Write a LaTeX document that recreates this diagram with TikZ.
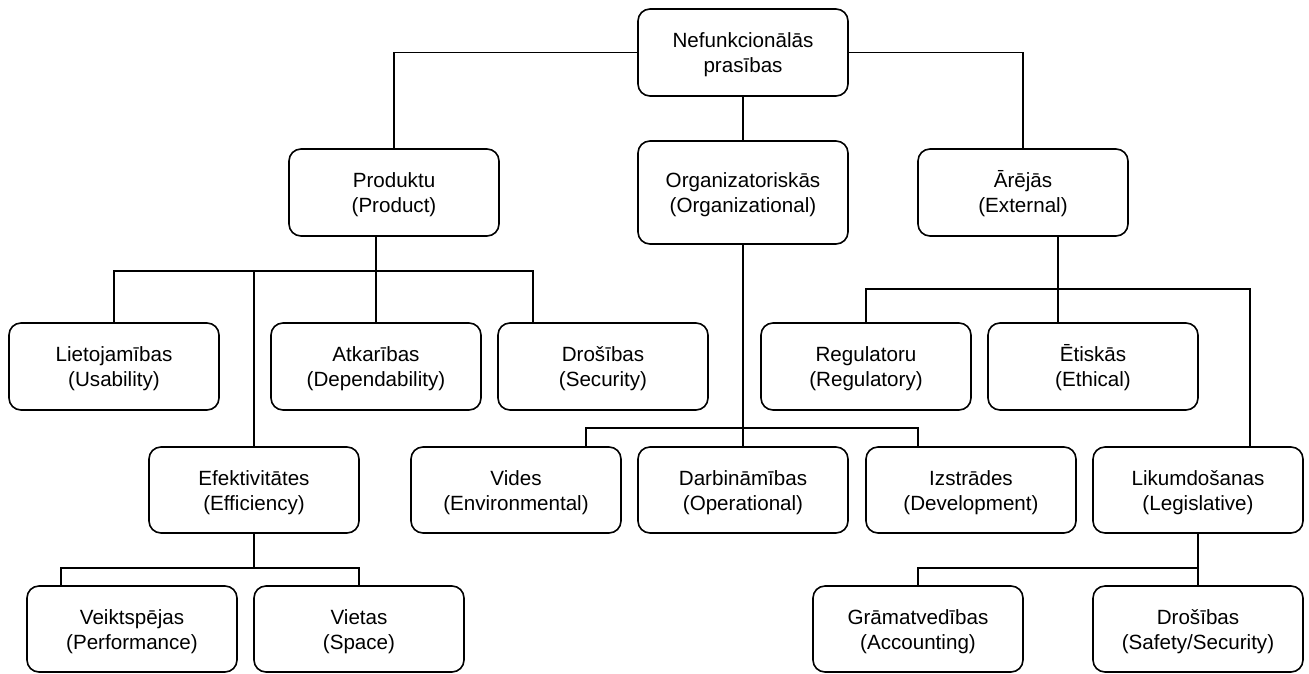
\documentclass[tikz,border=0pt]{standalone}
\usepackage{fontspec}
\setmainfont{Liberation Sans}
\begin{document}
\begin{tikzpicture}[x=1pt,y=-1pt,
  box/.style={draw,line width=1.6pt,rounded corners=12pt,minimum width=210pt,minimum height=87pt,
    align=center,inner sep=0pt,font=\fontsize{20.6}{25}\selectfont,
    text height=45.4pt,text depth=5pt},
  link/.style={line width=1.4pt}]
\useasboundingbox (0,0) rectangle (1309,673);
\node[box] (root) at (743,52.5) {Nefunkcionālās\\prasības};
\node[box] (prod) at (394,192.5) {Produktu\\(Product)};
\node[box,minimum height=103pt] (org) at (743,192.5) {Organizatoriskās\\(Organizational)};
\node[box] (ext) at (1023,192.5) {Ārējās\\(External)};
\node[box] (usab) at (114,366.5) {Lietojamības\\(Usability)};
\node[box] (dep) at (376,366.5) {Atkarības\\(Dependability)};
\node[box] (sec) at (603,366.5) {Drošības\\(Security)};
\node[box] (reg) at (866,366.5) {Regulatoru\\(Regulatory)};
\node[box] (eth) at (1093,366.5) {Ētiskās\\(Ethical)};
\node[box,minimum height=86pt] (eff) at (254,490) {Efektivitātes\\(Efficiency)};
\node[box,minimum height=86pt] (env) at (516,490) {Vides\\(Environmental)};
\node[box,minimum height=86pt] (opr) at (743,490) {Darbināmības\\(Operational)};
\node[box,minimum height=86pt] (dev) at (971,490) {Izstrādes\\(Development)};
\node[box,minimum height=86pt] (leg) at (1198,490) {Likumdošanas\\(Legislative)};
\node[box,minimum height=86pt] (perf) at (132,629) {Veiktspējas\\(Performance)};
\node[box,minimum height=86pt] (space) at (359,629) {Vietas\\(Space)};
\node[box,minimum height=86pt] (acc) at (918,629) {Grāmatvedības\\(Accounting)};
\node[box,minimum height=86pt] (safe) at (1198,629) {Drošības\\(Safety/Security)};
% bus levels
\coordinate (pb) at (0,271);
\coordinate (ob) at (0,428);
\coordinate (eb) at (0,289);
\coordinate (fb) at (0,568);
\coordinate (secin) at ([xshift=-70pt]sec.north);
\coordinate (envin) at ([xshift=70pt]env.north);
\coordinate (devin) at ([xshift=-53pt]dev.north);
\coordinate (extout) at ([xshift=35pt]ext.south);
\coordinate (legin) at ([xshift=52pt]leg.north);
\coordinate (perfin) at ([xshift=-71pt]perf.north);
% root
\draw[link] (root.west) -| (prod.north);
\draw[link] (root.east) -| (ext.north);
\draw[link] (root.south) -- (org.north);
% product
\draw[link] (prod.south -| dep.north) -- (dep.north);
\draw[link] (usab.north) |- (pb -| secin) -- (secin);
\draw[link] (eff.north) -- (eff.north |- pb);
% organizational
\draw[link] (org.south) -- (opr.north);
\draw[link] (envin) |- (ob -| devin) -- (devin);
% external
\draw[link] (extout) -- (extout |- eth.north);
\draw[link] (reg.north) |- (eb -| legin) -- (legin);
% efficiency
\draw[link] (eff.south) -- (eff.south |- fb);
\draw[link] (perfin) |- (fb -| space.north) -- (space.north);
% legislative
\draw[link] (leg.south) -- (safe.north);
\draw[link] (acc.north) |- (fb -| leg.south);
\end{tikzpicture}
\end{document}
